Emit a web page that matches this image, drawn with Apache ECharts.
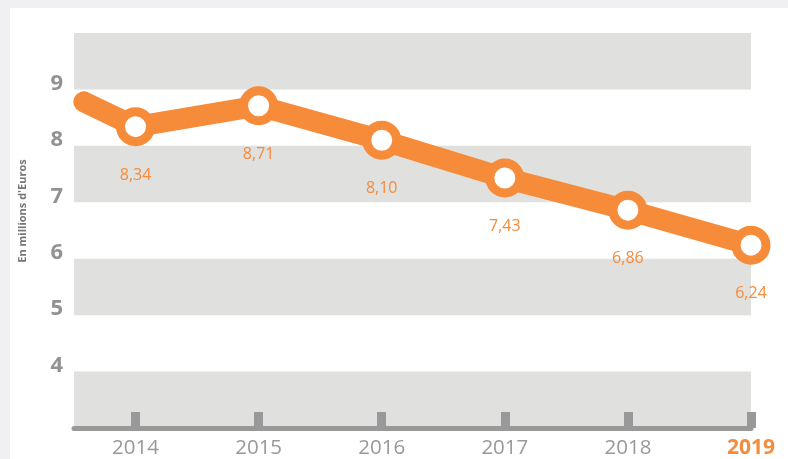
<!DOCTYPE html>
<html>
<head>
<meta charset="utf-8">
<script src="https://cdn.jsdelivr.net/npm/echarts@6/dist/echarts.min.js"></script>
<style>
    html, body { margin: 0; padding: 0; background: #f0f0f2; }
    #chart1 { position: absolute; left: 10px; top: 8px; width: 778px; height: 451px; background: #fff; }
</style>
</head>
<body>
<div id="chart1"></div>
<script>
    // years shown on the axis and their values
    let years = [2014, 2015, 2016, 2017, 2018, 2019];
    let values = [8.34, 8.71, 8.10, 7.43, 6.86, 6.24];
    // line comes in from the left edge (previous year, cut off)
    let startPoint = [2013.58, 8.78];
    let yTicks = [4, 5, 6, 7, 8, 9];

    let orange = '#f68b3a';
    let grey = '#999999';

    let lineData = [{value: startPoint, symbol: 'none', label: {show: false}}];
    for (let i = 0; i < years.length; i++) {
        lineData.push({value: [years[i], values[i]]});
    }

    let chart1 = echarts.init(document.getElementById('chart1'));
    chart1.setOption({
        animation: false,
        grid: {left: 64, right: 37, top: 25, bottom: 31},
        graphic: [{
            type: 'text',
            x: 13,
            y: 203,
            rotation: Math.PI / 2,
            style: {
                text: 'En millions d\'Euros',
                fontSize: 11,
                fontWeight: 'bold',
                fontFamily: 'Open Sans',
                fill: '#777',
                align: 'center',
                verticalAlign: 'middle'
            }
        }],
        xAxis: {
            type: 'value',
            min: 2013.5,
            max: 2019,
            splitLine: {show: false},
            axisLine: {show: true, lineStyle: {color: grey, width: 5}},
            axisTick: {
                show: true,
                inside: true,
                length: 16,
                customValues: years,
                lineStyle: {color: grey, width: 9}
            },
            axisLabel: {
                customValues: years,
                margin: 10,
                fontSize: 20.5,
                fontFamily: 'Open Sans',
                color: grey,
                formatter: function (v) {
                    return v == 2019 ? '{b|' + v + '}' : String(v);
                },
                rich: {
                    b: {fontSize: 21, fontWeight: 'bold', fontFamily: 'Open Sans', color: orange}
                }
            }
        },
        yAxis: {
            type: 'value',
            min: 3,
            max: 10,
            interval: 1,
            axisLine: {show: false},
            axisTick: {show: false},
            splitLine: {show: false},
            splitArea: {show: true, areaStyle: {color: ['#e0e0de', 'rgba(0,0,0,0)']}},
            axisLabel: {
                fontSize: 22,
                fontWeight: 'bold',
                fontFamily: 'Open Sans',
                color: '#929292',
                margin: 11,
                verticalAlign: 'bottom',
                lineHeight: 12,
                customValues: yTicks
            }
        },
        series: [{
            type: 'line',
            data: lineData,
            symbol: 'circle',
            symbolSize: 30,
            lineStyle: {color: orange, width: 21, cap: 'round', join: 'round'},
            itemStyle: {color: '#fff', borderColor: orange, borderWidth: 9},
            label: {
                show: true,
                position: 'bottom',
                distance: 21,
                fontSize: 16,
                fontFamily: 'Open Sans',
                color: orange,
                formatter: function (p) { return p.value[1].toFixed(2).replace('.', ','); }
            },
            z: 3
        }]
    });
</script>
</body>
</html>
